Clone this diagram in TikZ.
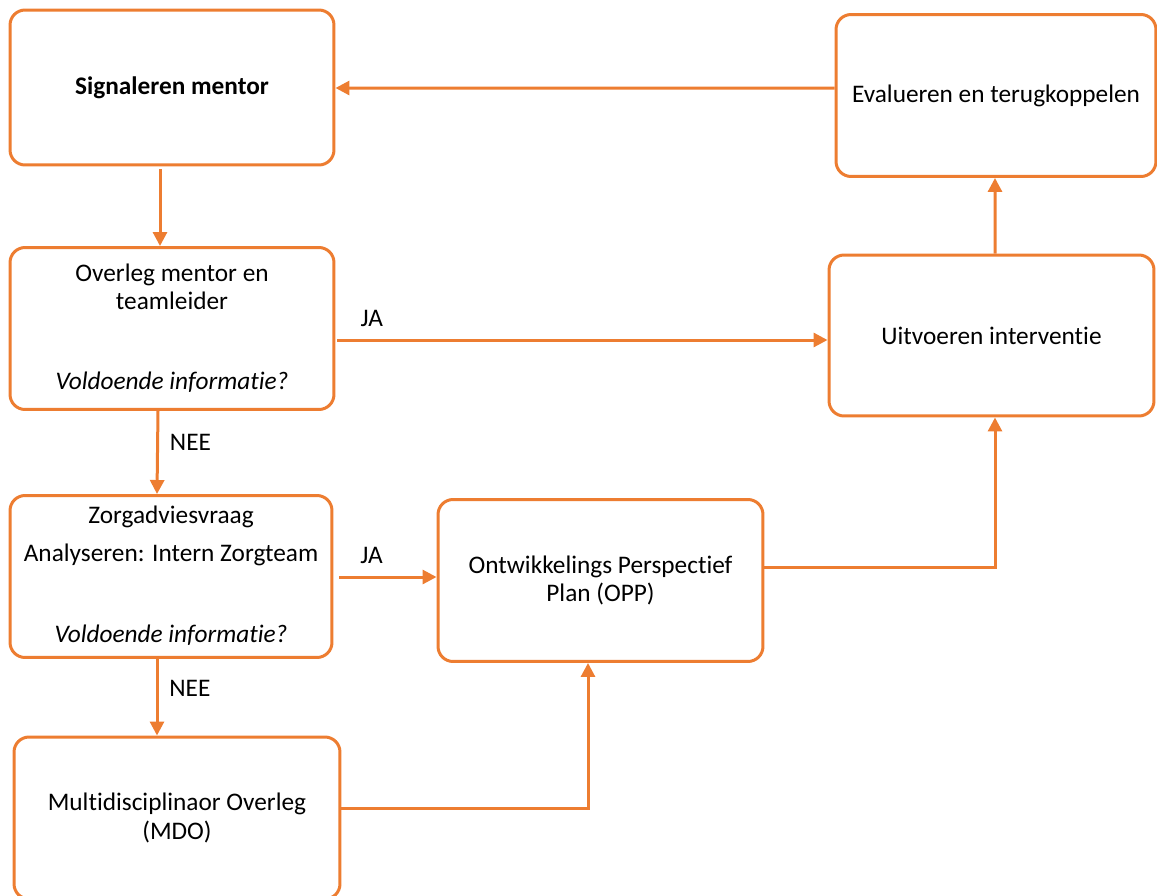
\documentclass[tikz,border=0pt]{standalone}
\usepackage{fontspec}
\setmainfont{Carlito}[Ligatures=NoCommon]
\usetikzlibrary{arrows.meta, positioning, calc}
\definecolor{zorgorange}{HTML}{ED7D31}

\begin{document}
\begin{tikzpicture}[x=0.02cm, y=-0.02cm,
        box/.style={rectangle, rounded corners=0.3cm, draw=zorgorange, line width=0.06cm, minimum width=6.48cm, minimum height=3.24cm, fill=white, font=\fontsize{14.4}{16}\selectfont},
        txt/.style={font=\fontsize{14.4}{16}\selectfont, align=center},
        vraag/.style={txt, font=\fontsize{14.4}{16}\selectfont\itshape},
        arrow/.style={-{Triangle[length=0.28cm, width=0.28cm]}, draw=zorgorange, line width=0.06cm},
        lbl/.style={font=\fontsize{14.4}{16}\selectfont}
    ]
    \clip (0,0) rectangle (1157,896);

    % Boxes
    \node[box, minimum height=3.1cm] (sig) at (172,87.5) {\bfseries Signaleren mentor};
    \node[box, minimum width=6.4cm] (eval) at (996,95.5) {Evalueren en terugkoppelen};
    \node[box] (ovl) at (172,328.5) {};
    \node[box, minimum width=6.5cm, minimum height=3.22cm] (uitv) at (991.5,335.5) {Uitvoeren interventie};
    \node[box, minimum width=6.44cm] (zorg) at (171,576.5) {};
    \node[box, minimum width=6.5cm, align=center] (opp) at (600.5,580.5) {Ontwikkelings Perspectief\\Plan (OPP)};
    \node[box, minimum width=6.52cm, align=center] (mdo) at (177,818) {Multidisciplinaor Overleg\\(MDO)};

    % Texts inside boxes
    \node[txt, yshift=-0.82cm] at (ovl.north) {Overleg mentor en\\teamleider};
    \node[vraag, yshift=0.58cm] at (ovl.south) {Voldoende informatie?};
    \node[txt, yshift=-0.46cm] at (zorg.north) {Zorgadviesvraag};
    \node[txt, yshift=-1.22cm] at (zorg.north) {Analyseren: Intern Zorgteam};
    \node[vraag, yshift=0.48cm] at (zorg.south) {Voldoende informatie?};

    % Connectors
    \draw[arrow] ($(sig.south)+(-12,3)$) -- ($(ovl.north)+(-12,0)$);
    \draw[arrow] ($(eval.west)+(0,-7.5)$) -- ($(sig.east)+(0,0.5)$);
    \draw[arrow] ($(ovl.east)+(2,11.5)$) coordinate (ja1) -- (ja1 -| uitv.west)
        node[pos=0.07, above=0.12cm, lbl] {JA};
    \draw[arrow] ($(ovl.south)+(-14,0)$) -- ($(zorg.north)+(-14,0)$)
        node[pos=0.38, right=0.1cm, lbl] {NEE};
    \draw[arrow] ($(zorg.east)+(6,0.5)$) coordinate (ja2) -- (ja2 -| opp.west)
        node[pos=0.33, above=0.12cm, lbl] {JA};
    \draw[arrow] ($(opp.east)+(0,-13.5)$) -| ($(uitv.south)+(3.5,0)$);
    \draw[arrow] ($(uitv.north)+(3.5,0)$) -- ($(eval.south)+(-1,0)$);
    \draw[arrow] ($(zorg.south)+(-14,0)$) -- ($(mdo.north)+(-20,0)$)
        node[pos=0.38, right=0.1cm, lbl] {NEE};
    \draw[arrow] ($(mdo.east)+(0,-10)$) -| ($(opp.south)+(-12.5,0)$);

\end{tikzpicture}
\end{document}
